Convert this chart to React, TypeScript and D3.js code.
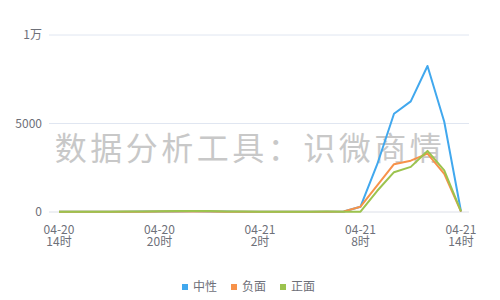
import React from "react";
import * as d3 from "d3";

const hours = d3.range(25); // 04-20 14时 .. 04-21 14时, hourly
const neutral = [20, 15, 10, 15, 20, 25, 30, 35, 40, 35, 25, 20, 15, 10, 10, 15, 20, 30, 300, 2700, 5550, 6250, 8250, 5100, 30];
const negative = [15, 12, 10, 12, 15, 20, 25, 30, 35, 30, 20, 15, 12, 10, 10, 12, 15, 25, 300, 1500, 2700, 2900, 3300, 2150, 20];
const positive = [20, 18, 15, 18, 25, 30, 40, 50, 60, 50, 35, 25, 18, 15, 15, 20, 25, 20, 20, 1200, 2250, 2550, 3450, 2350, 40];
const yTicks = [0, 5000, 10000];
const yTickLabels = ["0", "5000", "1万"];
const xTickIdx = [0, 6, 12, 18, 24];
const xTickDates = ["04-20", "04-20", "04-21", "04-21", "04-21"];
const xTickHours = ["14时", "20时", "2时", "8时", "14时"];
const seriesNames = ["中性", "负面", "正面"];
const colors = ["#41a8ee", "#f7924a", "#9cc34e"];
const watermark = "数据分析工具：识微商情";

const W = 500, H = 300;
const FONT = "'Noto Sans CJK SC', 'Noto Sans', sans-serif";

export default function App() {
  const x = d3.scaleLinear().domain([0, 24]).range([59, 461]);
  const y = d3.scaleLinear().domain([0, 10000]).range([212, 35]);
  const line = d3.line<number>().x((_, i) => x(hours[i])).y((d) => y(d));
  const all = [neutral, negative, positive];
  const legendX = [185, 234, 283];

  return (
    <svg width={W} height={H} style={{ position: "absolute", left: 0, top: 0, display: "block" }} fontFamily={FONT}>
      <rect width={W} height={H} fill="#fff" />
      {yTicks.map((t, i) => (
        <g key={t}>
          <line x1={49} x2={469} y1={y(t)} y2={y(t)} stroke={i === 0 ? "#dcdfe8" : "#e0e6f1"} strokeWidth={1} />
          <text x={42} y={y(t)} dy="0.35em" textAnchor="end" fontSize={12} fill="#6e7079">{yTickLabels[i]}</text>
        </g>
      ))}
      {xTickIdx.map((h, i) => (
        <g key={h}>
          <text x={x(h)} y={234} textAnchor="middle" fontSize={12} fill="#6e7079">{xTickDates[i]}</text>
          <text x={x(h)} y={246} textAnchor="middle" fontSize={12} fill="#6e7079">{xTickHours[i]}</text>
        </g>
      ))}
      <text x={250} y={160} textAnchor="middle" fontSize={32} letterSpacing={3.5} fill="#c8c8c8">{watermark}</text>
      {all.map((s, k) => (
        <path key={k} d={line(s) || ""} fill="none" stroke={colors[k]} strokeWidth={2} strokeLinejoin="round" />
      ))}
      {seriesNames.map((n, k) => (
        <g key={n}>
          <rect x={legendX[k] - 3} y={284} width={6} height={6} fill={colors[k]} />
          <text x={legendX[k] + 8} y={287} dy="0.35em" fontSize={12} fill="#6e7079">{n}</text>
        </g>
      ))}
    </svg>
  );
}
